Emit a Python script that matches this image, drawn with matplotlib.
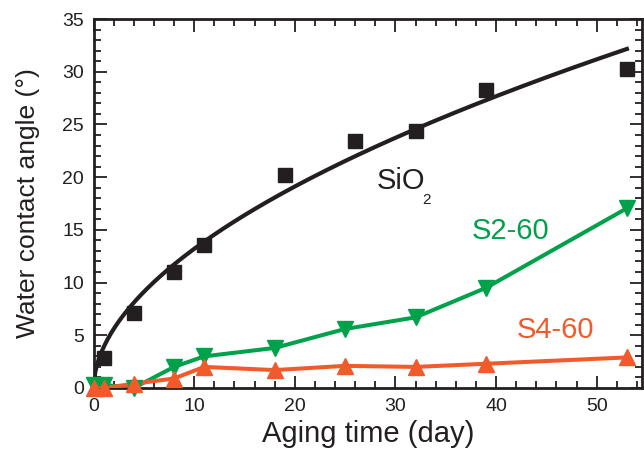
import numpy as np
import matplotlib
matplotlib.use("Agg")
import matplotlib.pyplot as plt
from matplotlib.ticker import MultipleLocator

plt.rcParams['font.family'] = ['Liberation Sans', 'DejaVu Sans']

# Data
sio2_days = [1, 4, 8, 11, 19, 26, 32, 39, 53]
sio2_angle = [2.8, 7.1, 11.0, 13.6, 20.2, 23.4, 24.4, 28.3, 30.3]

s260_days = [0, 1, 4, 8, 11, 18, 25, 32, 39, 53]
s260_angle = [0.3, 0.3, 0.0, 2.0, 3.0, 3.8, 5.6, 6.7, 9.5, 17.05]

s460_days = [0, 1, 4, 8, 11, 18, 25, 32, 39, 53]
s460_angle = [0.0, 0.0, 0.4, 0.9, 2.0, 1.7, 2.1, 2.0, 2.3, 2.9]

x_label = "Aging time (day)"
y_label = "Water contact angle (°)"

c_black = "#231f20"
c_green = "#00a14b"
c_red = "#f15a2b"

# power-law fit of SiO2 data (y = a * x^b), log-space least squares
xs = np.array(sio2_days, float)
ys = np.array(sio2_angle, float)
best = None
for b in np.linspace(0.2, 1.0, 801):
    xb = xs ** b
    a = np.sum(ys * xb) / np.sum(xb * xb)
    sse = np.sum((ys - a * xb) ** 2)
    if best is None or sse < best[0]:
        best = (sse, a, b)
_, fa, fb = best
xfit = np.linspace(0, max(sio2_days), 300)
yfit = fa * xfit ** fb

fig = plt.figure(figsize=(6.44, 4.55), dpi=100)
ax = fig.add_axes([93.5 / 644, 1 - 388 / 455, (642 - 93.5) / 644, (388 - 19) / 455])

ax.plot(xfit, yfit, color=c_black, lw=3.0, zorder=3)
ax.plot(sio2_days, sio2_angle, 's', color=c_black, ms=10, zorder=4, clip_on=False)

ax.plot(s260_days, s260_angle, '-', color=c_green, lw=2.9, zorder=3)
ax.plot(s260_days, s260_angle, 'v', color=c_green, ms=11, zorder=4, clip_on=False)

ax.plot(s460_days, s460_angle, '-', color=c_red, lw=2.9, zorder=3)
ax.plot(s460_days, s460_angle, '^', color=c_red, ms=11, zorder=5, clip_on=False)

ax.text(30.5, 19.6, "SiO", color=c_black, fontsize=21, ha='center', va='center')
ax.text(33.1, 17.8, "2", color=c_black, fontsize=11, ha='center', va='center')
ax.text(41.4, 14.9, "S2-60", color=c_green, fontsize=21, ha='center', va='center')
ax.text(45.9, 5.5, "S4-60", color=c_red, fontsize=21, ha='center', va='center')

ax.set_xlim(0, 54.5)
ax.set_ylim(0, 35)
ax.xaxis.set_major_locator(MultipleLocator(10))
ax.xaxis.set_minor_locator(MultipleLocator(2))
ax.yaxis.set_major_locator(MultipleLocator(5))
ax.yaxis.set_minor_locator(MultipleLocator(1))
ax.tick_params(which='both', direction='in', top=True, right=True, colors=c_black,
               labelsize=14, width=1.3)
ax.tick_params(which='major', length=9, pad=7)
ax.tick_params(which='minor', length=5)
for s in ax.spines.values():
    s.set_linewidth(2.0)
    s.set_color(c_black)

ax.set_xlabel(x_label, fontsize=21, color=c_black, labelpad=4)
ax.set_ylabel(y_label, fontsize=19, color=c_black, labelpad=16)

fig.savefig("out.png", dpi=100)
